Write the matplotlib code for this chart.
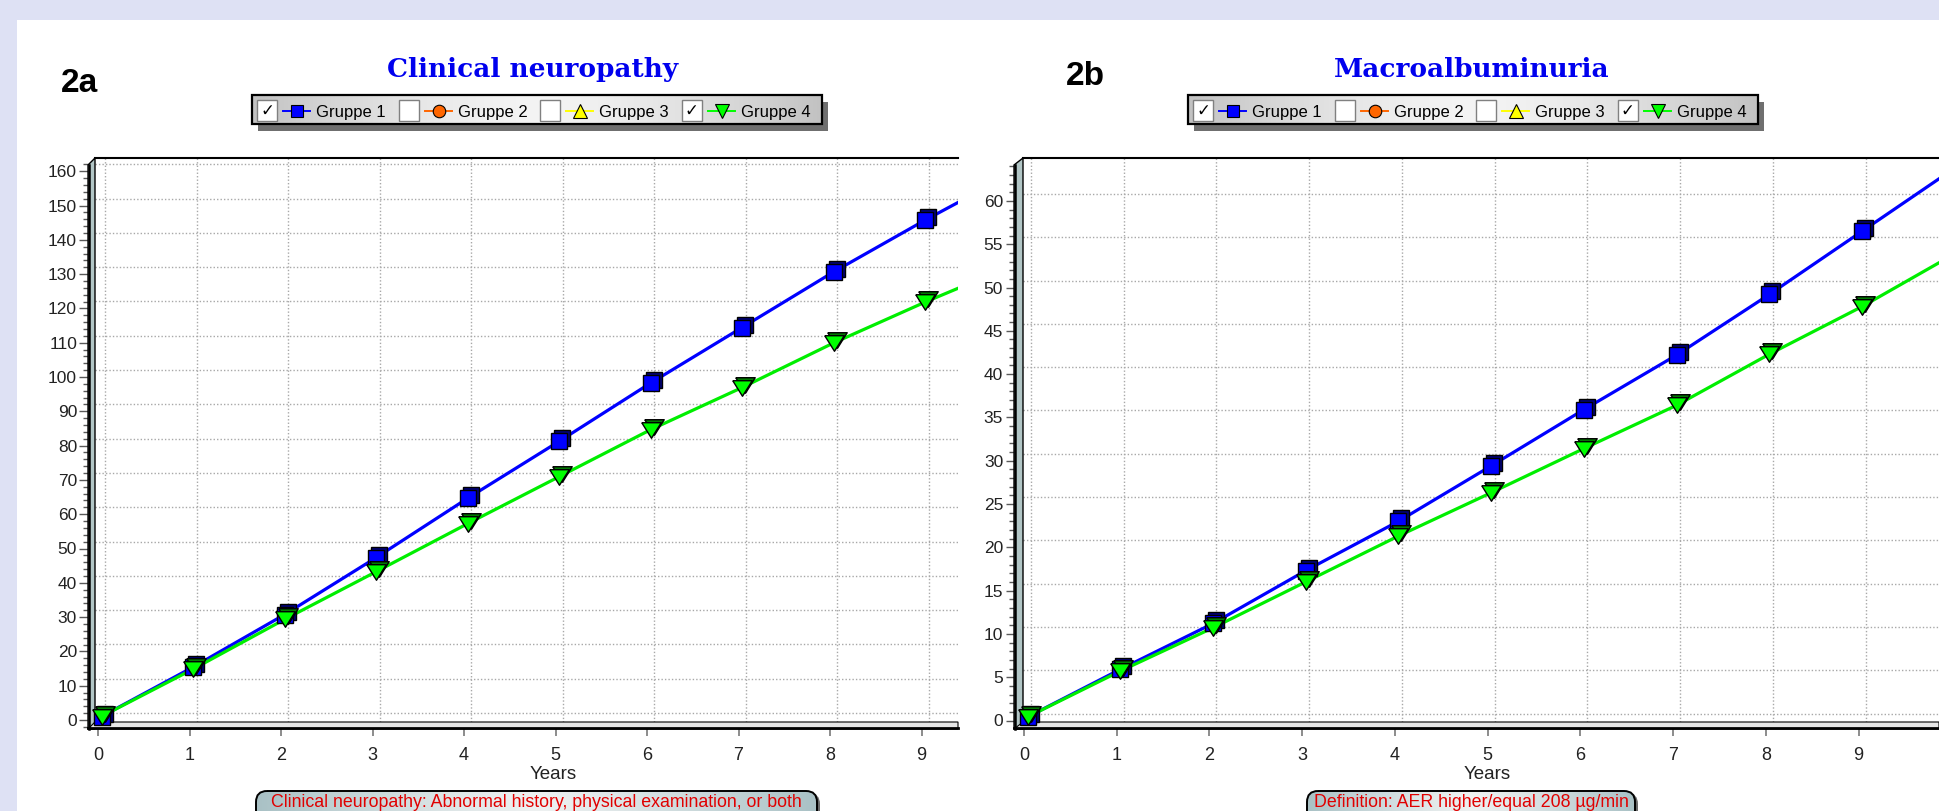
import numpy as np
import matplotlib
matplotlib.use("Agg")
import matplotlib.pyplot as plt
from matplotlib.colors import to_rgb
from matplotlib.patches import Rectangle, Polygon, FancyBboxPatch
from matplotlib.ticker import MultipleLocator
from matplotlib.transforms import offset_copy

plt.rcParams['font.family'] = ['Liberation Sans', 'DejaVu Sans']

W, H = 1939, 811

years = [0, 1, 2, 3, 4, 5, 6, 7, 8, 9, 10]

# 2a clinical neuropathy
neuro_g1 = [0, 14.4, 29.7, 46.3, 63.6, 80.2, 97.2, 113.4, 129.6, 144.7, 159.0]
neuro_g4 = [0, 13.8, 28.3, 42.2, 56.2, 69.9, 83.6, 95.9, 108.9, 120.8, 132.0]
# 2b macroalbuminuria
macro_g1 = [0, 5.5, 10.8, 16.9, 22.6, 29.0, 35.5, 41.8, 48.8, 56.1, 63.4]
macro_g4 = [0, 5.3, 10.3, 15.6, 20.9, 25.9, 31.0, 36.0, 41.9, 47.4, 53.5]

groups = ["Gruppe 1", "Gruppe 2", "Gruppe 3", "Gruppe 4"]
group_checked = [True, False, False, True]
group_colors = ["#0000ff", "#ff6600", "#ffff00", "#00ff00"]
group_markers = ["s", "o", "^", "v"]

titles = ["Clinical neuropathy", "Macroalbuminuria"]
panel_tags = ["2a", "2b"]
notes = ["Clinical neuropathy: Abnormal history, physical examination, or both",
         "Definition: AER higher/equal 208 \u00b5g/min"]

fig = plt.figure(figsize=(W / 100, H / 100), dpi=100)
fig.patch.set_facecolor('white')

# background axes in pixel coords (origin top-left)
bg = fig.add_axes([0, 0, 1, 1], zorder=0)
bg.set_xlim(0, W)
bg.set_ylim(H, 0)
bg.axis('off')
bg.set_autoscale_on(False)

lav = '#dee1f4'
bg.add_patch(Rectangle((0, 0), W, 20, color=lav, lw=0))
bg.add_patch(Rectangle((0, 0), 17, H, color=lav, lw=0))


def hgrad(x0, y0, w, h, edge, mid, zorder, clip=None, power=1.5):
    t = np.linspace(0, 1, 256)
    k = (np.abs(2 * t - 1) ** power)[None, :, None]
    e = np.array(to_rgb(edge))
    m = np.array(to_rgb(mid))
    img = m + (e - m) * k
    im = bg.imshow(img, extent=[x0, x0 + w, y0 + h, y0], aspect='auto',
                   zorder=zorder, interpolation='bilinear')
    if clip is not None:
        im.set_clip_path(clip)
    return im


def draw_legend(x0, y0):
    w, h = 570, 29
    bg.add_patch(Rectangle((x0 + 6, y0 + 7), w, h, facecolor='#6f6f6f', lw=0, zorder=1))
    hgrad(x0, y0, w, h, '#c2c2c2', '#f4f4f4', 2)
    bg.add_patch(Rectangle((x0, y0), w, h, fill=False, edgecolor='black', lw=1.6, zorder=3))
    yc = y0 + 15.5
    for i, name in enumerate(groups):
        cx = x0 + 5.5 + i * 141.5
        bg.add_patch(Rectangle((cx, y0 + 5), 20, 21, facecolor='white',
                               edgecolor='#808080', lw=1, zorder=3))
        if group_checked[i]:
            bg.text(cx + 10, yc, '\u2713', family='DejaVu Sans', fontsize=12,
                    fontweight='bold', ha='center', va='center', zorder=4)
        bg.plot([cx + 26, cx + 53], [yc, yc], color=group_colors[i], lw=1.4, zorder=3)
        ms = 9.5 if group_markers[i] in ('^', 'v') else 9
        bg.plot([cx + 40], [yc], marker=group_markers[i], ms=ms, mfc=group_colors[i],
                mec='black', mew=0.8, zorder=4)
        bg.text(cx + 59, y0 + 21.7, name, fontsize=12, va='baseline', zorder=4)


def draw_note(x0, x1, text):
    y0 = 791
    bg.add_patch(FancyBboxPatch((x0 + 3, y0 + 2), x1 - x0, 40,
                                boxstyle='round,pad=0,rounding_size=11',
                                facecolor='#6a6a6a', lw=0, zorder=1))
    box = FancyBboxPatch((x0, y0), x1 - x0, 40, boxstyle='round,pad=0,rounding_size=11',
                         facecolor='none', edgecolor='black', lw=1.4, zorder=3)
    bg.add_patch(box)
    hgrad(x0, y0, x1 - x0, 40, '#a9c1c5', '#eef1f1', 2, clip=box, power=1.2)
    bg.text((x0 + x1) / 2, 807, text, color='#e00000', fontsize=12.8,
            ha='center', va='baseline', zorder=4)


tri_down = [(-1, 0.8), (1, 0.8), (0, -0.8), (-1, 0.8)]


def draw_chart(l, r, x0px, ppy, y0px, ppu, ystep, yminor, wall_w, g1, g4, ytick_len, ypad):
    t, b = 158, 729
    ax = fig.add_axes([l / W, 1 - b / H, (r - l) / W, (b - t) / H], zorder=2)
    xmax = (r - x0px) / ppy
    ax.set_xlim((l - x0px) / ppy, xmax)
    ax.set_ylim((y0px - b) / ppu, (y0px - t) / ppu)
    ax.xaxis.set_major_locator(MultipleLocator(1))
    ax.yaxis.set_major_locator(MultipleLocator(ystep))
    ax.yaxis.set_minor_locator(MultipleLocator(yminor))
    for s in ['top', 'right', 'bottom']:
        ax.spines[s].set_visible(False)
    ax.spines['left'].set_position(('outward', wall_w * 0.72))
    ax.spines['left'].set_color('none')
    ax.tick_params(axis='y', which='major', length=ytick_len, width=1, color='#5a5a5a',
                   pad=ypad, labelsize=12.5, labelcolor='#222222')
    ax.tick_params(axis='y', which='minor', length=3.6, width=1, color='#5a5a5a')
    ax.tick_params(axis='x', length=5, width=1.4, color='#8c8c8c', pad=8,
                   labelsize=13, labelcolor='#222222')

    # back wall grid, shifted by the 3D depth
    hg = offset_copy(ax.get_yaxis_transform(), fig=fig, x=0, y=7, units='dots')
    vg = offset_copy(ax.get_xaxis_transform(), fig=fig, x=7, y=0, units='dots')
    for yv in ax.get_yticks():
        if ax.get_ylim()[0] <= yv <= ax.get_ylim()[1]:
            ax.plot([0, 1], [yv, yv], transform=hg, color='#a8a8a8', lw=1,
                    ls=(0, (1, 1.5)), zorder=1)
    for xv in ax.get_xticks():
        if ax.get_xlim()[0] <= xv <= xmax:
            ax.plot([xv, xv], [0, 1], transform=vg, color='#a8a8a8', lw=1,
                    ls=(0, (1, 1.5)), zorder=1)

    # 3D wall, floor and top frame (pixel coords)
    pt = bg.transData
    ax.add_patch(Polygon([(l - wall_w, b), (l - wall_w, t + 7), (l, t), (l, b)], closed=True,
                         facecolor='#b2c6c6', edgecolor='black', lw=1, transform=pt,
                         clip_on=False, zorder=2.5))
    ax.plot([l - wall_w + 1, l - wall_w + 1], [t + 7, b], color='black', lw=1.8,
            transform=pt, clip_on=False, zorder=2.6)
    ax.add_patch(Polygon([(l - wall_w, b), (l, b - 7), (r, b - 7), (r, b)], closed=True,
                         facecolor='#e6e6e6', edgecolor='black', lw=0.8, transform=pt,
                         clip_on=False, zorder=2.5))
    ax.plot([l - wall_w, r], [b - 1, b - 1], color='black', lw=2, transform=pt,
            clip_on=False, zorder=2.6)
    ax.plot([l, r], [t, t], color='black', lw=1.5, transform=pt, clip_on=False, zorder=2.6)

    # series
    st = offset_copy(ax.transData, fig=fig, x=3.5, y=3.5, units='dots')
    sb = offset_copy(ax.transData, fig=fig, x=6.5, y=6.5, units='dots')
    vis = [i for i, x in enumerate(years) if x <= xmax]
    xs = [years[i] for i in vis]
    ax.plot(years, g1, color='#0000ff', lw=2.3, transform=st, zorder=3)
    ax.plot(years, g4, color='#00ee00', lw=2.3, transform=st, zorder=3.1)
    ax.plot(xs, [g1[i] for i in vis], ls='none', marker='s', ms=11, mfc='#00007a',
            mec='black', mew=1, transform=sb, zorder=4, clip_on=False)
    ax.plot(xs, [g1[i] for i in vis], ls='none', marker='s', ms=11, mfc='#0000ff',
            mec='black', mew=1, transform=st, zorder=4.1, clip_on=False)
    ax.plot(xs, [g4[i] for i in vis], ls='none', marker=tri_down, ms=14, mfc='#007a00',
            mec='black', mew=1, transform=sb, zorder=4.2, clip_on=False)
    ax.plot(xs, [g4[i] for i in vis], ls='none', marker=tri_down, ms=14, mfc='#00ff00',
            mec='black', mew=1, transform=st, zorder=4.3, clip_on=False)
    return ax


draw_chart(95, 958, 98, 91.5, 720, 3.43, 10, 2, 7, neuro_g1, neuro_g4, 6.5, 1.4)
draw_chart(1023, 1939, 1024, 92.74, 720.5, 8.66, 5, 1, 9, macro_g1, macro_g4, 5.8, 2)

# titles, tags, legends, notes
bg.text(61, 91.7, panel_tags[0], fontsize=24, fontweight='bold', va='baseline')
bg.text(1066, 85, panel_tags[1], fontsize=24, fontweight='bold', va='baseline')
bg.text(533, 77.3, titles[0], family='DejaVu Serif', fontweight='bold', fontsize=19,
        color='#0000ee', ha='center', va='baseline')
bg.text(1471.5, 77.3, titles[1], family='DejaVu Serif', fontweight='bold', fontsize=19,
        color='#0000ee', ha='center', va='baseline')
draw_legend(251.7, 95)
draw_legend(1187.7, 95)
bg.text(553, 779, "Years", fontsize=13.5, ha='center', va='baseline', color='#222222')
bg.text(1487, 779, "Years", fontsize=13.5, ha='center', va='baseline', color='#222222')
draw_note(256, 817, notes[0])
draw_note(1307, 1635, notes[1])

fig.savefig("out.png", dpi=100)
